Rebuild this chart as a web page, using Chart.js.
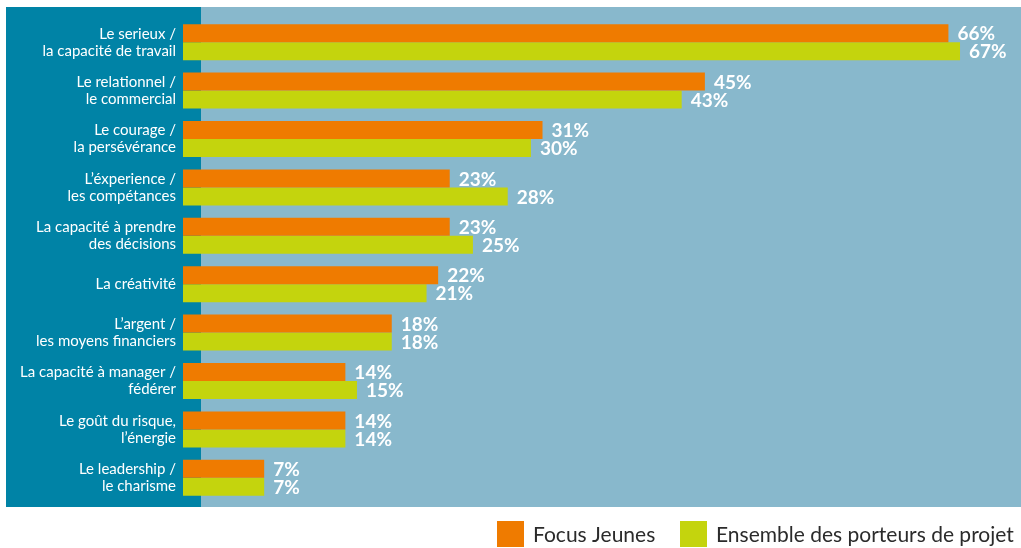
<!DOCTYPE html>
<html>
<head>
<meta charset="utf-8">
<script src="https://cdn.jsdelivr.net/npm/chart.js@4/dist/chart.umd.min.js"></script>
<style>
  html, body { margin: 0; padding: 0; background: #fff; }
  #wrap { width: 1021px; height: 548px; }
</style>
</head>
<body>
<div id="wrap"><canvas id="qualitesChart" width="1021" height="548"></canvas></div>
<script>
// Libellés des catégories (multi-lignes)
var categories = [
    ['Le serieux /', 'la capacité de travail'],
    ['Le relationnel /', 'le commercial'],
    ['Le courage /', 'la persévérance'],
    ['L\u2019éxperience /', 'les compétances'],
    ['La capacité à prendre', 'des décisions'],
    'La créativité',
    ['L\u2019argent /', 'les moyens financiers'],
    ['La capacité à manager /', 'fédérer'],
    ['Le goût du risque,', 'l\u2019énergie'],
    ['Le leadership /', 'le charisme']
];
var seriesNames = ['Focus Jeunes', 'Ensemble des porteurs de projet'];
var focusJeunes = [66, 45, 31, 23, 23, 22, 18, 14, 14, 7];
var ensemblePorteurs = [67, 43, 30, 28, 25, 21, 18, 15, 14, 7];

var ORANGE = '#ef7b00';
var VERT = '#c4d40d';
var FOND_FONCE = '#0083a6';
var FOND_CLAIR = '#88b8cc';
var FONT = 'Lato';

// Fond : panneau foncé à gauche, panneau clair à droite
var fondPlugin = {
    id: 'fond',
    beforeDraw: function (chart) {
        var ctx = chart.ctx;
        ctx.save();
        ctx.fillStyle = FOND_CLAIR;
        ctx.fillRect(201, 7, chart.width - 201, 500);
        ctx.fillStyle = FOND_FONCE;
        ctx.fillRect(6, 7, 195, 500);
        ctx.restore();
    }
};

// Valeurs en % au bout des barres
var valeursPlugin = {
    id: 'valeurs',
    afterDatasetsDraw: function (chart) {
        var ctx = chart.ctx;
        ctx.save();
        ctx.fillStyle = '#ffffff';
        ctx.font = 'bold 19px ' + FONT;
        ctx.textAlign = 'left';
        ctx.textBaseline = 'middle';
        chart.data.datasets.forEach(function (ds, i) {
            var meta = chart.getDatasetMeta(i);
            meta.data.forEach(function (bar, j) {
                ctx.fillText(ds.data[j] + '%', bar.x + 9, bar.y + 1);
            });
        });
        ctx.restore();
    }
};

// Légende en bas à droite (dessinée à la main pour coller au modèle)
var legendeX = [497, 680];
var legendePlugin = {
    id: 'legende',
    afterDraw: function (chart) {
        var ctx = chart.ctx;
        ctx.save();
        ctx.font = '21px ' + FONT;
        ctx.textBaseline = 'middle';
        ctx.textAlign = 'left';
        var boxW = 27, boxH = 26, yTop = 521;
        chart.data.datasets.forEach(function (d, i) {
            var x = legendeX[i];
            ctx.fillStyle = d.backgroundColor;
            ctx.fillRect(x, yTop, boxW, boxH);
            ctx.fillStyle = '#2b2b2b';
            ctx.fillText(d.label, x + boxW + 9, yTop + boxH / 2 + 1);
        });
        ctx.restore();
    }
};

var ctx = document.getElementById('qualitesChart').getContext('2d');
window.chartInstance = new Chart(ctx, {
    type: 'bar',
    data: {
        labels: categories,
        datasets: [{
            label: seriesNames[0],
            data: focusJeunes,
            backgroundColor: ORANGE
        }, {
            label: seriesNames[1],
            data: ensemblePorteurs,
            backgroundColor: VERT
        }]
    },
    options: {
        indexAxis: 'y',
        responsive: false,
        animation: false,
        categoryPercentage: 0.744,
        barPercentage: 1,
        layout: { padding: { left: 0, right: 3, top: 18, bottom: 46 } },
        plugins: {
            tooltip: { enabled: false },
            legend: { display: false }
        },
        scales: {
            x: {
                display: false,
                min: 0,
                max: 72
            },
            y: {
                grid: { display: false, drawTicks: false, tickLength: 0 },
                border: { display: false },
                ticks: {
                    color: '#ffffff',
                    padding: 7,
                    font: { family: FONT, size: 15, lineHeight: 1.13 }
                },
                afterFit: function (scale) {
                    scale.width = 183;
                    scale.paddingTop = 0;
                    scale.paddingBottom = 0;
                }
            }
        }
    },
    plugins: [fondPlugin, valeursPlugin, legendePlugin]
});
</script>
</body>
</html>
